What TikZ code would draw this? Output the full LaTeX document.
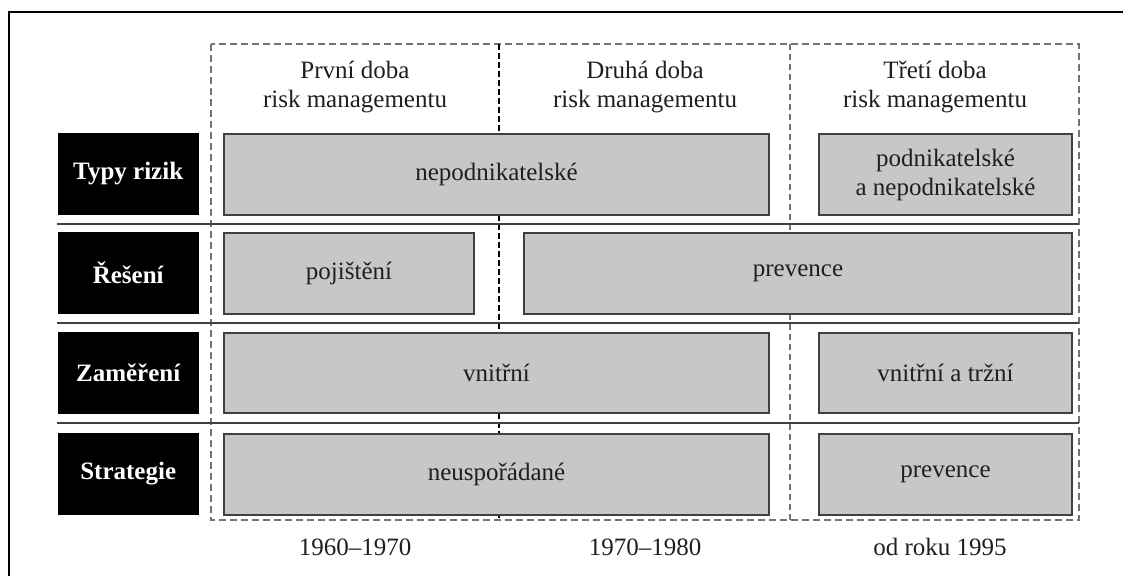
\documentclass[tikz,border=0pt]{standalone}
\usepackage{fontspec}
\setmainfont{Liberation Serif}
\begin{document}
\begin{tikzpicture}[x=1pt,y=-1pt,
  txt/.style={font=\fontsize{25}{29}\selectfont, text=black!88, align=center, inner sep=0pt},
  label/.style={fill=black, draw=black, minimum width=140pt, minimum height=81pt, inner sep=0pt,
    text=white, font=\fontsize{25}{29}\selectfont\bfseries, anchor=north west},
  cell/.style={fill=black!22, draw=black!75, line width=2pt, inner sep=0pt, anchor=north west,
    font=\fontsize{25}{29}\selectfont, text=black!88, align=center},
  frame/.style={draw=black!55, line width=2pt, dash pattern=on 7pt off 4pt},
  divider/.style={draw=black, line width=1.4pt, dash pattern=on 6pt off 3pt},
  divgray/.style={draw=black!55, line width=1.6pt, dash pattern=on 6pt off 4pt},
  sep/.style={draw=black!75, line width=1.5pt}]
\useasboundingbox (0,0) rectangle (1123,576);
% outer border (cut at the page edges)
\draw[line width=2pt] (9,576) -- (9,12) -- (1123,12);
% dashed frame and period dividers
\coordinate (fTL) at (211,44);
\coordinate (fBR) at (1079,520);
\draw[frame] (fTL) rectangle (fBR);
\coordinate (d1t) at (499,44);  \coordinate (d1b) at (499,520);
\coordinate (d2t) at (790,44);  \coordinate (d2b) at (790,520);
\draw[divider] (d1t) -- (d1b);
\draw[divgray] (d2t) -- (d2b);
% row separators
\coordinate (s1a) at (57,224); \coordinate (s1b) at (1079,224);
\coordinate (s2a) at (57,323); \coordinate (s2b) at (1079,323);
\coordinate (s3a) at (57,423); \coordinate (s3b) at (1079,423);
\draw[sep] (s1a) -- (s1b);
\draw[sep] (s2a) -- (s2b);
\draw[sep] (s3a) -- (s3b);
% period headings
\node[txt] (h1) at (355,87) {První doba\\risk managementu};
\node[txt] (h2) at (645,87) {Druhá doba\\risk managementu};
\node[txt] (h3) at (935,87) {Třetí doba\\risk managementu};
% row labels
\node[label] (l1) at (58,133) {Typy rizik};
\node[label] (l2) at (58,232) {Řešení};
\node[label] (l3) at (58,332) {Zaměření};
\node[label] (l4) at (58,433) {Strategie};
% cells
\node[cell, minimum width=545pt, minimum height=81pt] (c11) at (223,133) {nepodnikatelské};
\node[cell, minimum width=253pt, minimum height=81pt] (c13) at (818,133) {podnikatelské\\a nepodnikatelské};
\node[cell, minimum width=250pt, minimum height=81pt] (c21) at (223,232) {pojištění};
\node[cell, minimum width=548pt, minimum height=81pt] (c22) at (523,232) {prevence};
\node[cell, minimum width=545pt, minimum height=80pt] (c31) at (223,332) {vnitřní};
\node[cell, minimum width=253pt, minimum height=80pt] (c33) at (818,332) {vnitřní a tržní};
\node[cell, minimum width=545pt, minimum height=81pt] (c41) at (223,433) {neuspořádané};
\node[cell, minimum width=253pt, minimum height=81pt] (c43) at (818,433) {prevence};
% years
\node[txt] (y1) at (355,547) {1960–1970};
\node[txt] (y2) at (645,547) {1970–1980};
\node[txt] (y3) at (940,547) {od roku 1995};
\end{tikzpicture}
\end{document}
